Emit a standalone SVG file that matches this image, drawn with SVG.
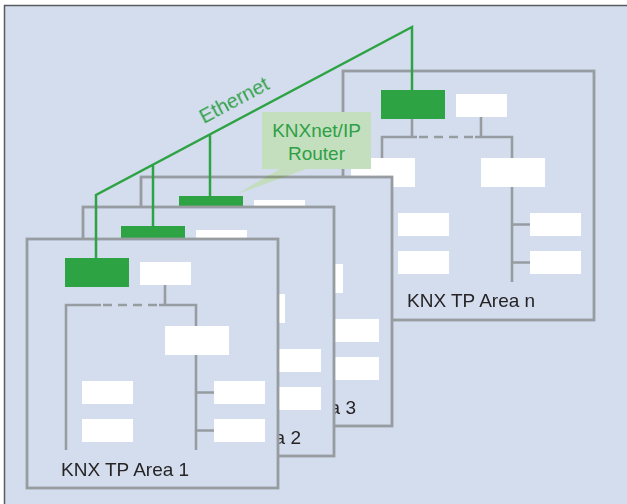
<svg xmlns="http://www.w3.org/2000/svg" xmlns:xlink="http://www.w3.org/1999/xlink" width="627" height="504" viewBox="0 0 627 504">
<defs>
<style>
.bg{fill:#D4DDEE;stroke:#5A5B5E;stroke-width:1.5}
.frame{fill:#D4DDEE;stroke:#979CA1;stroke-width:2.8}
.ln{fill:none;stroke:#979CA1;stroke-width:2.6}
.dash{stroke-dasharray:9 6}
.box{fill:#FFFFFF}
.router{fill:#2DA343}
.eth{fill:none;stroke:#2DA343;stroke-width:2.5}
.lbl{font-family:"Liberation Sans",Arial,sans-serif;font-size:19px;fill:#262425}
.green{font-family:"Liberation Sans",Arial,sans-serif;font-size:19px;fill:#2E9F45}
</style>
<g id="area">
<rect class="frame" x="0" y="0" width="251" height="249"/>
<rect class="router" x="38" y="19" width="64" height="29"/>
<path class="ln" d="M138,46V66 M39,211V66H74 M132,66H169V211 M169,153.5H187 M169,191.5H187"/>
<path class="ln dash" d="M76,66H130"/>
<rect class="box" x="113" y="23" width="51" height="23"/>
<rect class="box" x="138" y="87" width="64" height="29"/>
<rect class="box" x="55" y="142" width="51" height="23"/>
<rect class="box" x="55" y="180" width="51" height="23"/>
<rect class="box" x="187" y="142" width="51" height="23"/>
<rect class="box" x="187" y="180" width="51" height="23"/>
</g>
</defs>
<rect class="bg" x="4.5" y="5.5" width="640" height="520"/>
<g id="area-n" transform="translate(343,71)">
<use href="#area" xlink:href="#area"/>
<path class="ln" d="M69,48V66"/>
<rect class="box" x="8" y="87" width="64" height="29"/>
<text class="lbl" x="64" y="236">KNX TP Area n</text>
</g>
<g id="area-3" transform="translate(141,177)">
<use href="#area" xlink:href="#area"/>
<text class="lbl" x="215" y="237" text-anchor="end">KNX TP Area 3</text>
</g>
<g id="area-2" transform="translate(83,207)">
<use href="#area" xlink:href="#area"/>
<text class="lbl" x="218" y="237" text-anchor="end">KNX TP Area 2</text>
</g>
<g id="area-1" transform="translate(27,239)">
<use href="#area" xlink:href="#area"/>
<text class="lbl" x="34" y="237">KNX TP Area 1</text>
</g>
<g id="callout">
<path d="M283,167 L237,194 L312,167Z" fill="#ECFFCC" style="mix-blend-mode:multiply"/>
<rect x="262" y="112" width="109" height="57" fill="#C4DFBE"/>
<text class="green" x="316.5" y="137" text-anchor="middle">KNXnet/IP</text>
<text class="green" x="316.5" y="160" text-anchor="middle">Router</text>
</g>
<g id="ethernet">
<path class="eth" d="M412,90V27L96,195V258 M210,134.4V196 M153,164.7V226"/>
<text class="green" transform="translate(204,124) rotate(-28)" style="font-size:20px">Ethernet</text>
</g>
</svg>
